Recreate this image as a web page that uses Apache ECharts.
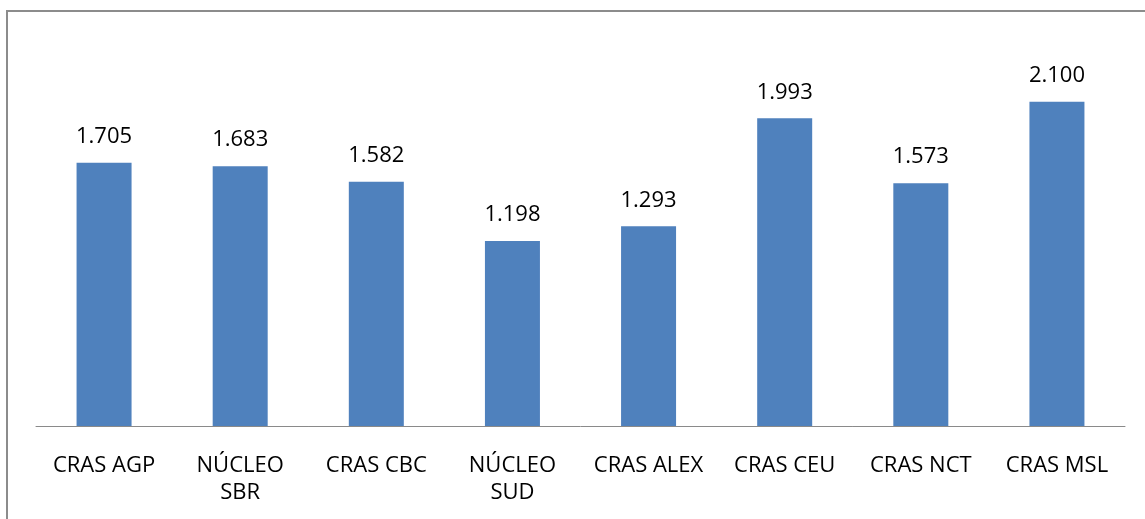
<!DOCTYPE html>
<html>
<head>
<meta charset="utf-8">
<script src="https://cdn.jsdelivr.net/npm/echarts@6/dist/echarts.min.js"></script>
<style>
  html, body { margin: 0; padding: 0; background: #fff; }
  #chart { width: 1145px; height: 519px; }
</style>
</head>
<body>
<div id="chart"></div>
<script>
// Atendimentos por unidade
const categories = ['CRAS AGP', 'NÚCLEO\nSBR', 'CRAS CBC', 'NÚCLEO\nSUD', 'CRAS ALEX', 'CRAS CEU', 'CRAS NCT', 'CRAS MSL'];
const values = [1705, 1683, 1582, 1198, 1293, 1993, 1573, 2100];

// Thousands separator in pt-BR style: 1705 -> "1.705"
function fmt(v) {
  const s = String(Math.round(v));
  return s.replace(/\B(?=(\d{3})+(?!\d))/g, '.');
}

const chart = echarts.init(document.getElementById('chart'), null, { renderer: 'canvas' });
const FONT = '"Open Sans", "Liberation Sans", sans-serif';

chart.setOption({
  animation: false,
  backgroundColor: '#ffffff',
  grid: { left: 36, right: 20, top: 40, bottom: 93 },
  graphic: [{
    type: 'rect',
    shape: { x: 7, y: 11, width: 1200, height: 600 },
    style: { fill: 'none', stroke: '#8c8c8c', lineWidth: 2 },
    silent: true
  }],
  xAxis: {
    type: 'category',
    data: categories,
    axisLine: { show: true, lineStyle: { color: '#8a8a8a', width: 1 } },
    axisTick: { show: false },
    axisLabel: {
      color: '#000',
      fontFamily: FONT,
      fontSize: 22,
      lineHeight: 27,
      margin: 26,
      interval: 0
    }
  },
  yAxis: {
    type: 'value',
    min: 0,
    max: 2500,
    interval: 500,
    show: false,
    splitLine: { show: false }
  },
  series: [{
    type: 'bar',
    data: values,
    barWidth: 55,
    itemStyle: { color: '#4F81BD' },
    label: {
      show: true,
      position: 'top',
      distance: 15,
      color: '#000',
      fontFamily: FONT,
      fontSize: 22,
      formatter: p => fmt(p.value)
    }
  }]
});
</script>
</body>
</html>
